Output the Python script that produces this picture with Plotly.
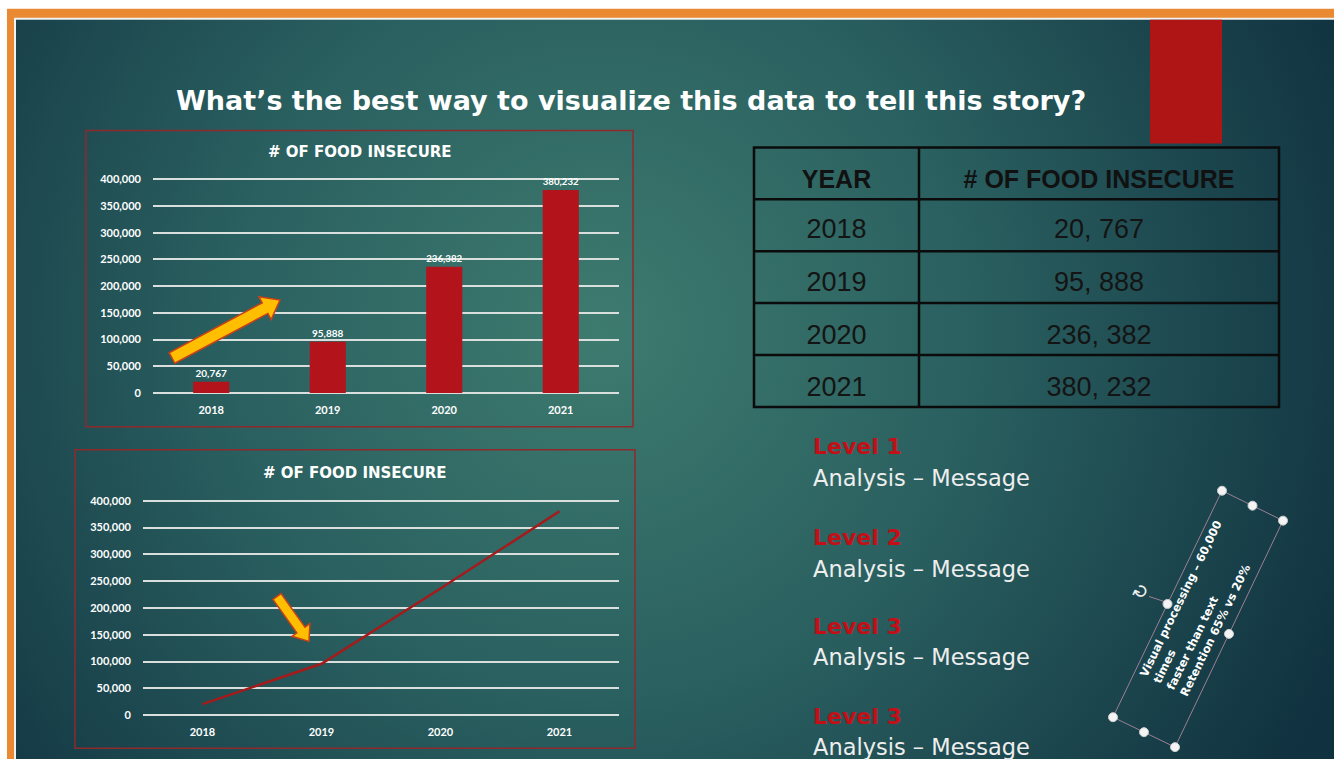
import base64
import math
import plotly.graph_objects as go

# ---------------- data ----------------
years = ["2018", "2019", "2020", "2021"]
food_insecure = [20767, 95888, 236382, 380232]
y_ticks = [0, 50000, 100000, 150000, 200000, 250000, 300000, 350000, 400000]
chart_title = "# OF FOOD INSECURE"
table_header = ["YEAR", "# OF FOOD INSECURE"]
slide_title = "What’s the best way to visualize this data to tell this story?"
level_labels = ["Level 1", "Level 2", "Level 3", "Level 3"]
level_messages = ["Analysis – Message"] * 4
note_lines = ["Visual processing – 60,000", "times", "faster than text", "Retention 65% vs 20%"]

W, H = 1334, 760
# small vertical calibration of the photographed page
SY, OY = 0.9877, 5.23


def X(px):
    return px / W


def Y(py):
    return 1 - ((py - OY) / SY) / H


# ---------------- background (slide frame + gradient) ----------------
svg = f'''<svg xmlns="http://www.w3.org/2000/svg" width="{W}" height="{H}" viewBox="0 0 {W} {H}" preserveAspectRatio="none">
<defs><radialGradient id="g" gradientUnits="userSpaceOnUse" cx="600" cy="330" r="820">
<stop offset="0" stop-color="#3e7b6f"/><stop offset="0.45" stop-color="#2a6060"/><stop offset="1" stop-color="#10313f"/>
</radialGradient></defs>
<rect width="{W}" height="{H}" fill="#ffffff"/>
<rect x="7" y="8" width="{W-7}" height="{H-8}" fill="#e98a33"/>
<rect x="14" y="17" width="{W-14}" height="{H-17}" fill="#f2f2f2"/>
<rect x="16" y="19" width="{W-16}" height="{H-19}" fill="url(#g)"/>
</svg>'''
bg_src = "data:image/svg+xml;base64," + base64.b64encode(svg.encode()).decode()

fig = go.Figure()

BAR_RED = "#b3131a"
GRID = "#d8dfdd"
TICKFONT = dict(family="Lato", size=11, color="white", weight="bold")

# bar chart
fig.add_trace(go.Bar(
    x=years, y=food_insecure, marker=dict(color=BAR_RED, line=dict(width=0)),
    texttemplate="%{y:,}", textposition="outside", cliponaxis=False,
    textfont=dict(family="Lato", size=10, color="white", weight="bold"),
    width=0.31, xaxis="x", yaxis="y", showlegend=False, hoverinfo="skip"))

# line chart
fig.add_trace(go.Scatter(
    x=years, y=food_insecure, mode="lines", line=dict(color="#a51a1a", width=2.5),
    xaxis="x2", yaxis="y2", showlegend=False, hoverinfo="skip"))

# table (text from the data; grid drawn below as shapes; an empty spacer column
# pushes the table's invisible scroll zone off the page)
TB_X0, TB_X1, TB_COL, TB_Y0, ROW_H = 754, 1279, 919, 147, 52
table_vals = [f"{v:,}".replace(",", ", ") for v in food_insecure]
TEXT_SHIFT = 10
fig.add_trace(go.Table(
    domain=dict(x=[X(TB_X0), 1.0], y=[Y(TB_Y0 + 5 * ROW_H + TEXT_SHIFT + 8), Y(TB_Y0 + TEXT_SHIFT)]),
    columnwidth=[TB_COL - TB_X0, TB_X1 - TB_COL, W - TB_X1],
    header=dict(values=[f"<b>{h}</b>" for h in table_header] + [""], height=ROW_H / SY,
                fill=dict(color="rgba(0,0,0,0)"), line=dict(color="rgba(0,0,0,0)", width=0),
                font=dict(family="Liberation Sans", size=25, color="#111111"), align="center"),
    cells=dict(values=[years, table_vals, [""] * len(years)], height=ROW_H / SY,
               fill=dict(color="rgba(0,0,0,0)"), line=dict(color="rgba(0,0,0,0)", width=0),
               font=dict(family="Liberation Sans", size=27, color="#141414"), align="center"),
))

PAD = 2000  # keeps the top grid line inside the plotting range
PX_PAD = 214 * PAD / 400000


def y_axis(top, bottom):
    return dict(range=[-PAD, 400000 + PAD], tickvals=y_ticks, tickformat=",", showgrid=True,
                gridcolor=GRID, gridwidth=2, zeroline=False, showline=False,
                tickfont=TICKFONT, ticklabelstandoff=11, fixedrange=True,
                domain=[Y(bottom + PX_PAD), Y(top - PX_PAD)])


axis_common_x = dict(type="category", range=[-0.5, 3.5], showgrid=False, zeroline=False,
                     showline=False, tickfont=TICKFONT, ticklabelstandoff=8, fixedrange=True)

shapes = []
annotations = []

# table grid
LINE = dict(color="#0b0b0b", width=2.5)
shapes.append(dict(type="rect", xref="paper", yref="paper", x0=X(TB_X0), x1=X(TB_X1),
                   y0=Y(TB_Y0 + 5 * ROW_H), y1=Y(TB_Y0), line=LINE, fillcolor="rgba(0,0,0,0)"))
shapes.append(dict(type="line", xref="paper", yref="paper", x0=X(TB_COL), x1=X(TB_COL),
                   y0=Y(TB_Y0 + 5 * ROW_H), y1=Y(TB_Y0), line=LINE))
for i in range(1, 5):
    shapes.append(dict(type="line", xref="paper", yref="paper", x0=X(TB_X0), x1=X(TB_X1),
                       y0=Y(TB_Y0 + i * ROW_H), y1=Y(TB_Y0 + i * ROW_H), line=LINE))

# chart boxes
for (x0, y0, x1, y1) in [(86, 130, 633, 427), (75, 450, 635, 749)]:
    shapes.append(dict(type="rect", xref="paper", yref="paper", x0=X(x0), x1=X(x1), y0=Y(y1), y1=Y(y0),
                       line=dict(color="#8e2a2c", width=1.5), fillcolor="rgba(0,0,0,0)", layer="below"))

# red decorative bar top right
shapes.append(dict(type="rect", xref="paper", yref="paper", x0=X(1150), x1=X(1222), y0=Y(143), y1=Y(19),
                   line=dict(width=0), fillcolor="#b01516", layer="below"))


def block_arrow(tail, tip, shaft, head_w, head_l):
    (x0, y0), (x1, y1) = tail, tip
    dx, dy = x1 - x0, y1 - y0
    L = math.hypot(dx, dy)
    ux, uy = dx / L, dy / L
    nx, ny = -uy, ux
    bx, by = x1 - ux * head_l, y1 - uy * head_l
    pts = [
        (x0 + nx * shaft / 2, y0 + ny * shaft / 2),
        (bx + nx * shaft / 2, by + ny * shaft / 2),
        (bx + nx * head_w / 2, by + ny * head_w / 2),
        (x1, y1),
        (bx - nx * head_w / 2, by - ny * head_w / 2),
        (bx - nx * shaft / 2, by - ny * shaft / 2),
        (x0 - nx * shaft / 2, y0 - ny * shaft / 2),
    ]
    path = "M " + " L ".join(f"{X(px):.5f},{Y(py):.5f}" for px, py in pts) + " Z"
    return dict(type="path", xref="paper", yref="paper", path=path, fillcolor="#ffbf00",
                line=dict(color="#c8401a", width=1.5), layer="above")


shapes.append(block_arrow((172, 358), (280, 300), 12, 26, 17))
shapes.append(block_arrow((277, 597), (309, 642), 10, 22, 14))

# rotated text box
corners = [(1222, 491), (1283, 521), (1175, 748), (1113, 718)]
path = "M " + " L ".join(f"{X(a):.5f},{Y(b):.5f}" for a, b in corners) + " Z"
shapes.append(dict(type="path", xref="paper", yref="paper", path=path,
                   line=dict(color="#9c7f93", width=1), fillcolor="rgba(0,0,0,0)"))
shapes.append(dict(type="line", xref="paper", yref="paper", x0=X(1149), y0=Y(597), x1=X(1167), y1=Y(603),
                   line=dict(color="#9c7f93", width=1)))
handles = corners + [((corners[i][0] + corners[(i + 1) % 4][0]) / 2, (corners[i][1] + corners[(i + 1) % 4][1]) / 2)
                     for i in range(4)]
for (hx, hy) in handles:
    r = 4.5
    shapes.append(dict(type="circle", xref="paper", yref="paper", x0=X(hx - r), x1=X(hx + r),
                       y0=Y(hy + r), y1=Y(hy - r), fillcolor="#f4f4f4", line=dict(color="#cfcfcf", width=1)))


def ann(x, y, text, font, **kw):
    d = dict(xref="paper", yref="paper", x=X(x), y=Y(y), text=text, showarrow=False,
             xanchor="center", yanchor="middle", font=font)
    d.update(kw)
    annotations.append(d)


ann(1141, 592, "↻", dict(family="DejaVu Sans", size=19, color="#f0f0f0"), textangle=-64)
ann(1201, 609, "<br>".join(note_lines), dict(family="DejaVu Sans", size=11.5, color="white", weight="bold"),
    align="left", textangle=-64)

# slide title
ann(631, 100, f"<b>{slide_title}</b>", dict(family="DejaVu Sans", size=27, color="white"))

# chart titles
ann(360, 152, f"<b>{chart_title}</b>", dict(family="DejaVu Sans", size=15, color="white"))
ann(355, 473, f"<b>{chart_title}</b>", dict(family="DejaVu Sans", size=15, color="white"))

# level texts
level_y = [447, 538, 627, 717]
for lab, msg, ly in zip(level_labels, level_messages, level_y):
    ann(811, ly, f"<b>{lab}</b>", dict(family="DejaVu Sans", size=22, color="#c40f17"), xanchor="left")
    ann(811, ly + 31, msg, dict(family="DejaVu Sans", size=22.5, color="#eeeeee"), xanchor="left")

fig.update_layout(
    width=W, height=H, margin=dict(l=0, r=0, t=0, b=0, pad=0), autosize=False,
    paper_bgcolor="white", plot_bgcolor="rgba(0,0,0,0)",
    xaxis=dict(domain=[X(153), X(619)], anchor="y", **axis_common_x),
    yaxis=dict(anchor="x", **y_axis(179, 393)),
    xaxis2=dict(domain=[X(143), X(619)], anchor="y2", **axis_common_x),
    yaxis2=dict(anchor="x2", **y_axis(501, 716)),
    images=[dict(source=bg_src, xref="paper", yref="paper", x=0, y=Y(0), sizex=1, sizey=Y(0) - Y(H),
                 xanchor="left", yanchor="top", sizing="stretch", layer="below")],
    shapes=shapes, annotations=annotations, bargap=0.69,
)

post = ("var s=document.documentElement.style;s.margin='0';s.padding='0';s.overflow='hidden';"
        "var b=document.body.style;b.margin='0';b.padding='0';b.overflow='hidden';")
fig.write_html("out.html", config={"displayModeBar": False}, post_script=post)
